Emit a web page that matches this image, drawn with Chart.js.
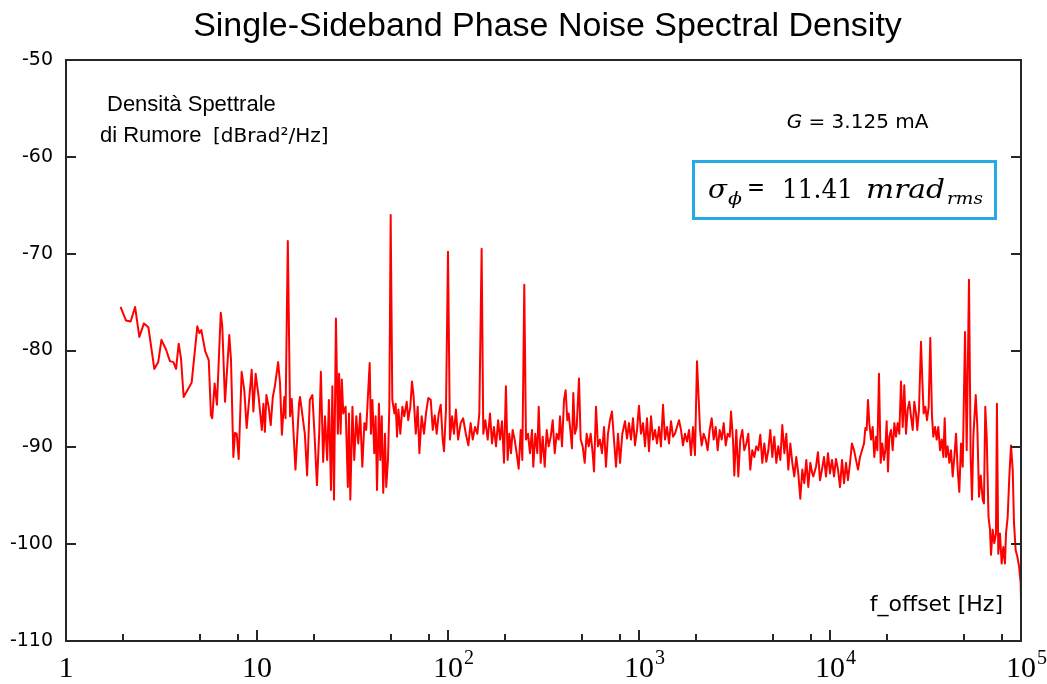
<!DOCTYPE html>
<html><head><meta charset="utf-8">
<script src="https://cdn.jsdelivr.net/npm/chart.js@4.4.1/dist/chart.umd.min.js"></script>
<style>html,body{margin:0;padding:0;background:#fff;}canvas{display:block;}</style>
</head><body>
<canvas id="c" width="1047" height="684"></canvas>
<script>
const titleText = 'Single-Sideband Phase Noise Spectral Density';
const freqHz = [
1.93,2.06,2.18,2.30,2.42,2.56,2.70,2.90,3.04,3.16,3.34,3.50,3.65,3.77,3.89,4.00,4.13,4.55,4.87,4.99,
5.11,5.36,5.59,5.74,5.83,6.00,6.17,6.46,6.58,6.80,7.16,7.31,7.52,7.67,7.83,8.02,8.31,8.58,8.83,9.38,
9.57,9.84,10.2,10.6,10.8,11.0,11.2,11.5,11.8,12.1,12.4,12.9,13.2,13.5,13.9,14.1,14.5,14.9,15.2,15.9,16.6,
16.8,17.8,18.3,18.9,19.5,20.0,20.6,21.2,21.6,22.2,22.7,23.3,23.8,24.4,24.8,25.3,25.9,26.5,26.9,27.4,
27.8,28.3,29.1,29.9,30.3,30.8,31.6,32.3,33.1,33.9,34.7,35.6,36.5,37.3,38.0,38.9,39.5,40.2,41.1,41.8,
42.5,43.5,44.2,45.0,45.8,46.8,47.5,48.5,49.3,50.1,51.1,52.4,53.2,54.1,55.0,56.3,57.7,59.0,60.8,61.9,
63.5,64.8,66.1,67.8,69.4,70.8,72.8,74.9,
76.7,78.9,81.2,83.2,85.2,87.3,89.4,91.6,93.8,95.3,97.6,100,102.4,105,107.5,110,113,116.5,120,124,
127.8,131.4,134.7,138.5,142.4,145.9,150,153,156.9,161.4,166,170,174,178.4,183,187.3,191.8,196.4,201,205.3,
209.4,213.8,218,223.4,228.8,234.4,240.3,245,250.8,256,262.4,268.6,275.3,279.6,286.4,293.5,298.5,305.7,313.2,320.9,
328.7,336.7,345,353.4,362,370.7,379.8,385.8,395.3,404.9,413,421.4,428.5,438.8,445.7,452.9,462,471.9,485.1,495,
507.2,519.6,532.2,545.3,558.5,572.1,581.3,595.6,609.6,624.9,640,656,671.5,688,704.7,722,739.6,757.9,776.3,
795.6,817.9,844.8,865.4,886.5,908,930.2,952.9,976,1000,1024,1050,1075,1101,1128,1156,1184,1213,1242,1273,
1303,1336,1368,1402,1436,1471,1507,1543,1581,1620,1659,1700,1741,1784,1828,1872,1917,1964,2012,2044,
2087,2128,2181,2234,2288,2344,2402,2460,2520,2582,2645,2710,2776,2844,2914,2985,3032,3105,3155,3231,
3311,3390,3475,3558,3646,3735,3825,3918,4015,4112,4213,4316,4421,4529,4640,4754,4869,4989,5107,5236,
5358,5495,5627,5768,5906,6050,6198,6347,6501,6661,6823,6991,7161,7334,7516,7699,7889,8079,
8177,8446,8650,8864,9080,9302,9529,9761,10000,10243,10496,10750,11015,11283,11560,11840,12130,12420,12730,13030,
13360,13680,14020,14360,14710,15070,15310,15560,15810,16060,16400,16730,17060,17420,17700,18050,18420,18790,19170,19480,
19800,20120,20440,20860,21290,21730,22160,22610,23070,23530,24030,24490,25000,25510,26020,26550,27100,27630,28190,28640,
29240,29950,30430,30930,31550,32210,32860,33500,34200,34750,35480,36190,36900,37670,38440,39210,39860,40480,41300,42170,
43010,43890,44770,45700,46610,47530,48530,49530,50930,51960,53420,54510,55400,56300,57940,59080,60260,61520,63020,63970,
65010,66130,67600,68820,69660,71090,72450,73960,74820,76030,77620,79190,80780,82420,83460,85150,86880,88650,90470,91910,
93760,95700,97700,99600,100000
];
const psdDb = [
-75.5,-76.9,-77.0,-75.5,-78.6,-77.2,-77.6,-81.9,-81.2,-78.9,-79.9,-81.1,-81.2,-81.9,-79.3,-80.8,-84.8,-83.3,-77.5,-78.2,
-77.9,-80.1,-81.0,-86.7,-87.0,-83.4,-85.6,-76.1,-77.5,-85.3,-78.4,-81.0,-91.0,-88.5,-88.6,-91.2,-82.2,-84.1,-88.0,-82.0,
-86.3,-82.4,-84.8,-88.2,-85.5,-88.4,-84.6,-85.8,-87.7,-84.8,-83.7,-81.2,-83.4,-88.7,-84.8,-87.0,-68.7,-86.8,-85.0,-92.3,-85.5,
-84.8,-88.6,-92.9,-85.1,-84.6,-88.6,-93.9,-88.2,-82.2,-91.5,-86.8,-91.3,-85.1,-94.4,-83.7,-95.4,-76.7,-88.6,-82.4,-88.6,
-83.0,-86.5,-85.8,-94.1,-86.5,-95.4,-85.8,-91.3,-86.8,-89.6,-86.5,-92.0,-87.5,-88.2,-85.1,-81.3,-88.6,-85.1,-90.6,-86.8,
-94.4,-85.5,-91.3,-86.8,-94.7,-88.6,-94.1,-91.3,-85.8,-66.0,-85.1,-86.5,-85.5,-88.9,-86.1,-88.6,-85.8,-86.8,-85.3,-87.2,
-85.8,-83.2,-84.8,-88.6,-85.8,-90.6,-86.8,-88.6,
-86.5,-84.9,-85.1,-88.2,-86.7,-88.6,-86.5,-85.6,-89.2,-90.4,-86.1,-69.8,-89.2,-86.8,-88.6,-86.1,-89.2,-87.5,-87.0,-88.6,
-89.8,-87.5,-89.2,-87.9,-88.6,-86.5,-69.5,-88.6,-87.2,-89.2,-86.5,-89.6,-87.9,-89.9,-87.2,-89.2,-87.3,-91.6,-83.7,-91.3,
-88.6,-90.6,-88.2,-89.2,-90.6,-92.2,-88.2,-91.3,-73.2,-89.2,-88.6,-90.6,-88.2,-92.0,-88.6,-90.6,-85.8,-91.6,-88.9,-92.0,
-88.2,-89.9,-88.9,-87.2,-90.6,-88.6,-89.2,-86.8,-89.9,-85.1,-84.1,-87.2,-86.5,-88.6,-90.1,-84.4,-88.6,-87.9,-82.9,-89.2,
-89.9,-91.6,-88.6,-89.9,-88.6,-90.6,-92.5,-85.8,-89.9,-89.2,-90.6,-87.9,-92.0,-88.6,-87.2,-86.3,-89.2,-92.0,-88.6,
-91.6,-88.6,-87.3,-89.1,-87.5,-89.2,-87.0,-89.8,-88.2,-85.7,-88.6,-87.5,-89.9,-87.0,-90.4,-86.8,-89.2,-88.2,-89.6,-87.9,
-89.9,-85.6,-89.2,-87.9,-89.6,-87.3,-88.9,-88.6,-87.9,-87.2,-88.2,-89.8,-88.6,-89.4,-88.2,-90.8,-87.9,-90.8,-81.1,-84.1,
-88.2,-89.8,-88.6,-89.2,-90.3,-88.2,-87.0,-89.2,-87.9,-90.3,-88.2,-89.2,-87.5,-89.8,-88.6,-88.9,-86.3,-89.2,-92.9,-88.2,
-93.0,-89.2,-88.2,-90.3,-89.6,-88.6,-92.3,-90.3,-91.0,-89.9,-90.3,-88.7,-91.6,-89.6,-91.5,-90.3,-88.2,-91.0,-88.9,-91.6,
-89.9,-91.3,-87.7,-90.6,-88.6,-92.3,-89.6,-91.6,-93.0,-91.0,-92.7,-95.3,-92.3,-93.7,-91.3,-94.1,-91.6,-92.7,
-93.0,-92.0,-90.5,-93.4,-92.3,-91.0,-93.0,-90.6,-92.7,-91.3,-93.0,-91.2,-92.3,-94.1,-91.3,-93.7,-91.6,-93.4,-91.6,-89.6,
-90.3,-91.3,-92.3,-91.0,-90.3,-89.6,-88.0,-88.2,-85.1,-87.5,-89.2,-87.9,-91.0,-88.9,-90.3,-82.4,-91.6,-89.6,-91.3,-90.3,
-87.3,-92.5,-88.9,-88.2,-90.3,-87.5,-88.9,-87.5,-88.6,-83.2,-87.9,-83.6,-88.6,-86.1,-85.3,-86.8,-88.2,-85.3,-86.5,-88.2,
-86.1,-79.1,-83.0,-86.5,-85.8,-87.2,-85.8,-78.7,-86.8,-88.9,-87.9,-89.2,-87.9,-90.3,-89.2,-91.0,-87.0,-91.0,-89.9,-91.6,
-90.3,-93.0,-91.0,-88.6,-92.3,-94.6,-89.6,-92.0,-78.1,-90.3,-72.7,-91.0,-95.4,-88.9,-84.6,-87.9,-95.1,-92.9,-95.4,-95.8,
-85.8,-88.9,-97.2,-98.5,-101.1,-98.5,-99.9,-98.9,-85.5,-101.0,-98.9,-102.0,-100.3,-102.0,-98.9,-97.2,-93.0,-89.8,-92.3,-97.8,
-100.6,-101.3,-102.3,-104.0,-105.8
];
const yTickValues = [-110,-100,-90,-80,-70,-60,-50];
const yTickLabels = ['-110','-100','-90','-80','-70','-60','-50'];
const xTickValues = [1,10,100,1000,10000,100000];
const xTickBase = ['1','10','10','10','10','10'];
const xTickExp = ['','','2','3','4','5'];
const xMinorTicks = [2,5,8,20,50,80,200,500,800,2000,5000,8000,20000,50000,80000];

const FRAME = '#262626';
const SANS = "'Liberation Sans', Arial, sans-serif";
const DSANS = "'DejaVu Sans', sans-serif";
const DSERIF = "'DejaVu Serif', 'Liberation Serif', serif";
const LSERIF = "'Liberation Serif', 'DejaVu Serif', serif";

function fitText(c, t, x0, x1, y, font) {
  c.font = font;
  const w = c.measureText(t).width;
  const s = (x1 - x0) / w;
  c.save(); c.translate(x0, y); c.scale(s, 1); c.textAlign = 'left'; c.fillText(t, 0, 0); c.restore();
}

const bgPlugin = {
  id:'bg',
  beforeDraw(chart){const c=chart.ctx;c.save();c.fillStyle='#fff';c.fillRect(0,0,chart.width,chart.height);c.restore();}
};
const framePlugin = {
  id:'frame',
  afterDatasetsDraw(chart){
    const c = chart.ctx, a = chart.chartArea, xs = chart.scales.x, ys = chart.scales.y;
    c.save();
    c.strokeStyle = FRAME; c.lineWidth = 2;
    c.strokeRect(a.left, a.top, a.right - a.left, a.bottom - a.top);
    c.beginPath();
    yTickValues.forEach(v => {
      const y = Math.round(ys.getPixelForValue(v));
      c.moveTo(a.left, y); c.lineTo(a.left + 10, y);
      c.moveTo(a.right, y); c.lineTo(a.right - 10, y);
    });
    xTickValues.forEach(v => {
      const x = Math.round(xs.getPixelForValue(v));
      c.moveTo(x, a.bottom); c.lineTo(x, a.bottom - 11);
    });
    xMinorTicks.forEach(v => {
      const x = Math.round(xs.getPixelForValue(v));
      c.moveTo(x, a.bottom); c.lineTo(x, a.bottom - 7);
    });
    c.stroke();
    c.fillStyle = '#000'; c.textBaseline = 'alphabetic';
    xTickValues.forEach((v, i) => {
      const x = xs.getPixelForValue(v);
      c.font = "30px " + LSERIF;
      const bw = c.measureText(xTickBase[i]).width;
      c.textAlign = 'left';
      c.fillText(xTickBase[i], x - bw / 2, 677);
      if (xTickExp[i]) {
        c.font = "20px " + LSERIF;
        c.fillText(xTickExp[i], x + bw / 2 + 1, 664);
      }
    });
    c.restore();
  },
  afterDraw(chart){
    const c = chart.ctx;
    c.save();
    c.fillStyle = '#000'; c.textBaseline = 'alphabetic';
    // title
    c.font = "34px " + SANS; c.textAlign = 'center';
    c.fillText(titleText, 547.5, 36);
    c.textAlign = 'left';
    c.font = "22px " + SANS;
    c.fillText('Densità Spettrale', 107, 111);
    c.fillText('di Rumore', 100, 142);
    c.font = "20px " + DSANS;
    c.fillText('[dBrad²/Hz]', 213, 142);
    // G = 3.125 mA
    c.font = "italic 20px " + DSANS;
    const gw = c.measureText('G').width;
    c.font = "20px " + DSANS;
    const rest = ' = 3.125 mA';
    const rw = c.measureText(rest).width;
    const gx = 857.5 - (gw + rw) / 2;
    c.font = "italic 20px " + DSANS;
    c.fillText('G', gx, 128);
    c.font = "20px " + DSANS;
    c.fillText(rest, gx + gw, 128);
    // box
    c.strokeStyle = '#27a9e1'; c.lineWidth = 3;
    c.strokeRect(693.5, 161.5, 302, 57);
    // sigma formula
    fitText(c, 'σ', 708, 727, 198, "italic 26px " + DSERIF);
    fitText(c, 'ϕ', 728, 742, 204, "italic 17px " + DSERIF);
    fitText(c, '=', 747, 765, 196, "26px " + DSERIF);
    fitText(c, '11.41', 782, 853, 198, "26px " + DSERIF);
    fitText(c, 'mrad', 866, 945, 198, "italic 26px " + DSERIF);
    fitText(c, 'rms', 947, 983, 204, "italic 17px " + DSERIF);
    // axis label
    c.font = "22px " + DSANS;
    c.textAlign = 'right';
    c.fillText('f_offset [Hz]', 1003, 611);
    c.restore();
  }
};

new Chart(document.getElementById('c'), {
  type: 'line',
  data: { datasets: [{
    data: freqHz.map((f, i) => ({ x: f, y: psdDb[i] })),
    borderColor: '#ff0000', borderWidth: 2, pointRadius: 0, tension: 0, fill: false,
    borderJoinStyle: 'round'
  }]},
  options: {
    responsive: false, animation: false, devicePixelRatio: 1,
    layout: { padding: { left: 0, right: 26, top: 60, bottom: 0 } },
    plugins: { legend: { display: false }, tooltip: { enabled: false }, title: { display: false } },
    scales: {
      x: { type: 'logarithmic', min: 1, max: 100000,
        grid: { display: false, drawTicks: false }, border: { display: false },
        ticks: { display: false }, afterFit(s) { s.height = 43; } },
      y: { type: 'linear', min: -110, max: -50,
        grid: { display: false, drawTicks: false }, border: { display: false },
        ticks: { stepSize: 10, padding: 13, color: '#000',
          font: { family: DSANS, size: 19 },
          callback: (v) => { const i = yTickValues.indexOf(v); return i >= 0 ? yTickLabels[i] : ''; } },
        afterFit(s) { s.width = 66; } }
    }
  },
  plugins: [bgPlugin, framePlugin]
});
</script>
</body></html>
